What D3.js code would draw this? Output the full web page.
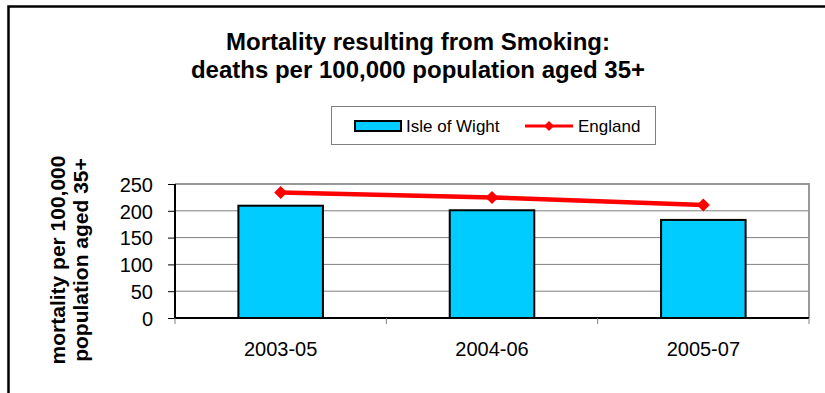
<!DOCTYPE html>
<html>
<head>
<meta charset="utf-8">
<script src="https://cdn.jsdelivr.net/npm/d3@7"></script>
<style>
  body { margin: 0; background: #fff; }
  text { font-family: Arial, "Liberation Sans", sans-serif; }
</style>
</head>
<body>
<div id="chart"></div>
<script>
(function(){
    const width = 825;
    const height = 393;

    // Chart data
    const periods = ["2003-05", "2004-06", "2005-07"];
    const isleOfWight = [209.5, 201, 183];
    const england = [234, 225, 211];
    const yTicks = [0, 50, 100, 150, 200, 250];

    const plot = { left: 175, right: 809, top: 184, bottom: 318 };

    const svg = d3.select("#chart")
        .append("svg")
        .attr("width", width)
        .attr("height", height);

    // Outer chart frame (only top and left edges are visible)
    svg.append("path")
        .attr("d", `M8.5,${height} L8.5,6.5 L${width},6.5`)
        .style("fill", "none")
        .style("stroke", "#000")
        .style("stroke-width", 2.5);

    // Title
    const title = svg.append("text")
        .attr("text-anchor", "middle")
        .style("font-size", "24px")
        .style("font-weight", "bold")
        .style("fill", "#000");
    title.append("tspan").attr("x", 418).attr("y", 50).text("Mortality resulting from Smoking:");
    title.append("tspan").attr("x", 418).attr("y", 78).text("deaths per 100,000 population aged 35+");

    // Scales
    const x = d3.scaleBand()
        .domain(periods)
        .range([plot.left, plot.right])
        .paddingInner(0)
        .paddingOuter(0);

    const y = d3.scaleLinear()
        .domain([0, 250])
        .range([plot.bottom, plot.top]);

    // Gridlines
    svg.append("g")
        .selectAll("line")
        .data(yTicks.filter(d => d > 0))
        .enter()
        .append("line")
        .attr("x1", plot.left)
        .attr("x2", plot.right)
        .attr("y1", d => y(d))
        .attr("y2", d => y(d))
        .style("stroke", "#808080")
        .style("stroke-width", 1);

    // Plot area border (top and right, grey)
    svg.append("path")
        .attr("d", `M${plot.left},${plot.top} L${plot.right},${plot.top} L${plot.right},${plot.bottom}`)
        .style("fill", "none")
        .style("stroke", "#999")
        .style("stroke-width", 2);

    // Bars
    const barW = x.bandwidth() * 0.4;
    svg.append("g")
        .selectAll("rect")
        .data(isleOfWight)
        .enter()
        .append("rect")
        .attr("x", (d, i) => x(periods[i]) + x.bandwidth() / 2 - barW / 2)
        .attr("y", d => y(d))
        .attr("width", barW)
        .attr("height", d => y(0) - y(d))
        .style("fill", "#00CCFF")
        .style("stroke", "#000")
        .style("stroke-width", 2);

    // Y axis
    const yAxis = svg.append("g")
        .attr("transform", `translate(${plot.left},0)`)
        .call(d3.axisLeft(y).tickValues(yTicks).tickSize(7).tickPadding(15));
    yAxis.select(".domain").style("stroke", "#000").style("stroke-width", 2)
        .attr("d", `M0,${plot.top}V${plot.bottom}`);
    yAxis.selectAll(".tick line").style("stroke", "#000");
    yAxis.selectAll(".tick text")
        .style("font-size", "20px")
        .style("fill", "#000")
        .attr("dy", "0.36em");

    // X axis
    const xAxis = svg.append("g")
        .attr("transform", `translate(0,${plot.bottom})`)
        .call(d3.axisBottom(x).tickSize(0).tickPadding(20));
    xAxis.select(".domain").style("stroke", "#000").style("stroke-width", 2)
        .attr("d", `M${plot.left},0H${plot.right}`);
    xAxis.selectAll(".tick text")
        .style("font-size", "20px")
        .style("fill", "#000")
        .attr("dy", "0.9em");

    // category separator ticks
    svg.append("g")
        .selectAll("line")
        .data(periods.concat(["end"]))
        .enter()
        .append("line")
        .attr("x1", (d, i) => i < periods.length ? x(d) : plot.right)
        .attr("x2", (d, i) => i < periods.length ? x(d) : plot.right)
        .attr("y1", plot.bottom)
        .attr("y2", plot.bottom + 6)
        .style("stroke", "#808080")
        .style("stroke-width", 1);

    // England line
    const line = d3.line()
        .x((d, i) => x(periods[i]) + x.bandwidth() / 2)
        .y(d => y(d));

    svg.append("path")
        .datum(england)
        .attr("d", line)
        .style("fill", "none")
        .style("stroke", "#FF0000")
        .style("stroke-width", 4.5);

    const diamondPath = r => `M0,${-r}L${r},0L0,${r}L${-r},0Z`;
    svg.append("g")
        .selectAll("path")
        .data(england)
        .enter()
        .append("path")
        .attr("d", diamondPath(6.5))
        .attr("transform", (d, i) => `translate(${x(periods[i]) + x.bandwidth() / 2},${y(d)})`)
        .style("fill", "#FF0000");

    // Y axis title
    const yTitle = svg.append("text")
        .attr("transform", "translate(0,260) rotate(-90)")
        .attr("text-anchor", "middle")
        .style("font-size", "21px")
        .style("font-weight", "bold")
        .style("fill", "#000");
    yTitle.append("tspan").attr("x", 0).attr("y", 65).text("mortality per 100,000");
    yTitle.append("tspan").attr("x", 0).attr("y", 88).text("population aged 35+");

    // Legend
    const legend = svg.append("g");
    legend.append("rect")
        .attr("x", 331.5)
        .attr("y", 106.5)
        .attr("width", 324)
        .attr("height", 38)
        .style("fill", "#fff")
        .style("stroke", "#808080")
        .style("stroke-width", 1);

    legend.append("rect")
        .attr("x", 355)
        .attr("y", 121)
        .attr("width", 46)
        .attr("height", 10)
        .style("fill", "#00CCFF")
        .style("stroke", "#000")
        .style("stroke-width", 2);

    legend.append("text")
        .attr("x", 406)
        .attr("y", 132)
        .style("font-size", "17px")
        .style("fill", "#000")
        .text("Isle of Wight");

    legend.append("line")
        .attr("x1", 525)
        .attr("x2", 573)
        .attr("y1", 126)
        .attr("y2", 126)
        .style("stroke", "#FF0000")
        .style("stroke-width", 3);

    legend.append("path")
        .attr("d", diamondPath(5))
        .attr("transform", "translate(549,126)")
        .style("fill", "#FF0000");

    legend.append("text")
        .attr("x", 578)
        .attr("y", 132)
        .style("font-size", "17px")
        .style("fill", "#000")
        .text("England");
})();
</script>
</body>
</html>
